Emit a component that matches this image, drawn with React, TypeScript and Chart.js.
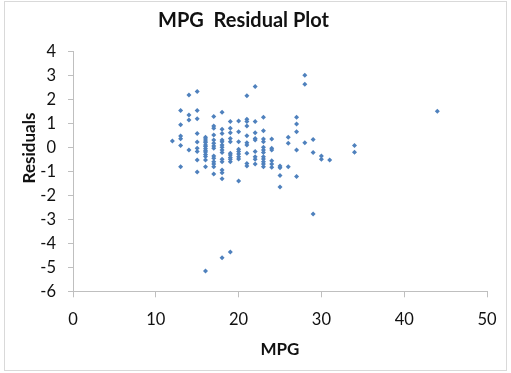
import { useEffect, useRef } from "react";
import { Chart, registerables } from "chart.js";

Chart.register(...registerables);

const mpgValues = [
  12,
  13, 13, 13, 13, 13, 13,
  14, 14, 14, 14,
  15, 15, 15, 15, 15, 15, 15, 15, 15,
  16, 16, 16, 16, 16, 16, 16, 16, 16, 16, 16, 16, 16, 16,
  17, 17, 17, 17, 17, 17, 17, 17, 17, 17, 17, 17, 17, 17,
  18, 18, 18, 18, 18, 18, 18, 18, 18, 18, 18, 18, 18, 18, 18,
  19, 19, 19, 19, 19, 19, 19, 19, 19, 19, 19,
  20, 20, 20, 20, 20, 20, 20, 20, 20,
  21, 21, 21, 21, 21, 21, 21, 21, 21, 21,
  22, 22, 22, 22, 22, 22, 22, 22, 22,
  23, 23, 23, 23, 23, 23, 23, 23, 23, 23, 23, 23,
  24, 24, 24, 24, 24, 24,
  25, 25, 25, 25,
  26, 26, 26,
  27, 27, 27, 27, 27,
  28, 28, 28,
  29, 29, 29,
  30, 30,
  31,
  34, 34,
  44,
];

const residualValues = [
  0.26,
  1.53, 0.94, 0.47, 0.36, 0.07, -0.81,
  2.18, 1.35, 1.14, -0.11,
  2.32, 1.53, 1.19, 0.57, 0.22, -0.04, -0.18, -0.53, -1.03,
  0.42, 0.35, 0.26, 0.2, 0.1, 0.03, -0.06, -0.14, -0.2, -0.3, -0.38, -0.53, -0.81, -5.15,
  1.28, 0.89, 0.79, 0.51, 0.3, 0.17, 0.05, -0.04, -0.36, -0.46, -0.6, -0.7, -0.81, -1.11,
  1.46, 0.75, 0.58, 0.3, 0.23, 0.1, 0.0, -0.11, -0.22, -0.5, -0.6, -0.95, -1.06, -1.31, -4.6,
  1.07, 0.79, 0.61, 0.37, 0.23, -0.25, -0.32, -0.42, -0.5, -0.6, -4.36,
  1.1, 0.65, 0.23, -0.08, -0.18, -0.28, -0.39, -0.49, -1.4,
  2.15, 1.17, 1.07, 0.89, 0.48, 0.19, 0.1, -0.25, -0.67, -0.78,
  2.53, 1.07, 0.61, 0.37, 0.3, -0.18, -0.39, -0.5, -0.7,
  1.25, 0.69, 0.35, 0.23, 0.0, -0.11, -0.22, -0.39, -0.49, -0.6, -0.7, -0.81,
  0.35, -0.04, -0.11, -0.56, -0.7, -0.83,
  -0.78, -0.85, -1.17, -1.65,
  0.42, 0.17, -0.81,
  1.25, 0.97, 0.65, -0.11, -1.22,
  3.0, 2.63, 0.19,
  0.33, -0.22, -2.78,
  -0.36, -0.5,
  -0.53,
  0.07, -0.21,
  1.5,
];

const xTickValues = [0, 10, 20, 30, 40, 50];
const yTickValues = [-6, -5, -4, -3, -2, -1, 0, 1, 2, 3, 4];

const chartTitle = "MPG  Residual Plot";
const xAxisTitle = "MPG";
const yAxisTitle = "Residuals";

const FONT = "Lato, 'Open Sans', 'DejaVu Sans', sans-serif";
const AXIS_COLOR = "#bfbfbf";
const TEXT_COLOR = "#111111";
const POINT_COLOR = "#4f81bd";

export default function App() {
  const ref = useRef<HTMLCanvasElement>(null);

  useEffect(() => {
    if (!ref.current) return;
    const points = mpgValues.map((x, i) => ({ x, y: residualValues[i] }));

    const framePlugin = {
      id: "frame",
      beforeDraw(chart: any) {
        const ctx = chart.ctx;
        ctx.save();
        ctx.fillStyle = "#ffffff";
        ctx.fillRect(0, 0, chart.width, chart.height);
        ctx.strokeStyle = "#d9d9d9";
        ctx.lineWidth = 1;
        ctx.strokeRect(4.5, 1.5, chart.width - 9, chart.height - 4);
        ctx.restore();
      },
      afterDraw(chart: any) {
        const ctx = chart.ctx;
        const area = chart.chartArea;
        ctx.save();
        ctx.translate(30, area.top + (area.bottom - area.top) * 0.403);
        ctx.rotate(-Math.PI / 2);
        ctx.font = `bold 17px ${FONT}`;
        ctx.fillStyle = TEXT_COLOR;
        ctx.textAlign = "center";
        ctx.textBaseline = "middle";
        ctx.fillText(yAxisTitle, 0, 0);
        ctx.restore();
      },
    };

    const chart = new Chart(ref.current, {
      type: "scatter",
      data: {
        datasets: [
          {
            data: points,
            pointStyle: "rectRot",
            pointRadius: 2.5,
            backgroundColor: POINT_COLOR,
            borderColor: POINT_COLOR,
            borderWidth: 0,
          },
        ],
      },
      options: {
        animation: false,
        responsive: false,
        layout: { padding: { left: 0, right: 24, top: 0, bottom: 0 } },
        plugins: {
          legend: { display: false },
          tooltip: { enabled: false },
          title: {
            display: true,
            text: chartTitle,
            color: TEXT_COLOR,
            font: { family: FONT, size: 20, weight: "bold" },
            padding: { top: 9, bottom: 18.3 },
          },
        },
        scales: {
          x: {
            type: "linear",
            min: 0,
            max: 50,
            afterBuildTicks(scale: any) {
              scale.ticks = xTickValues.map((v) => ({ value: v }));
            },
            afterFit(scale: any) {
              scale.height = 81.7;
            },
            ticks: {
              color: TEXT_COLOR,
              font: { family: FONT, size: 16.5 },
              padding: 12,
            },
            grid: { drawOnChartArea: false, tickLength: 6, color: AXIS_COLOR },
            border: { color: AXIS_COLOR },
            title: {
              display: true,
              text: xAxisTitle,
              color: TEXT_COLOR,
              font: { family: FONT, size: 17, weight: "bold" },
              padding: { top: 0, bottom: 12.8 },
            },
          },
          y: {
            type: "linear",
            min: -6,
            max: 4,
            afterBuildTicks(scale: any) {
              scale.ticks = yTickValues.map((v) => ({ value: v }));
            },
            afterFit(scale: any) {
              scale.width = 73;
            },
            ticks: {
              color: TEXT_COLOR,
              font: { family: FONT, size: 16.5 },
              padding: 12,
            },
            grid: { drawOnChartArea: false, tickLength: 5, color: AXIS_COLOR },
            border: { color: AXIS_COLOR },
          },
        },
      },
      plugins: [framePlugin],
    } as any);

    return () => chart.destroy();
  }, []);

  return (
    <div style={{ position: "absolute", left: 0, top: 0, width: 511, height: 373 }}>
      <canvas ref={ref} width={511} height={373} style={{ display: "block" }} />
    </div>
  );
}
